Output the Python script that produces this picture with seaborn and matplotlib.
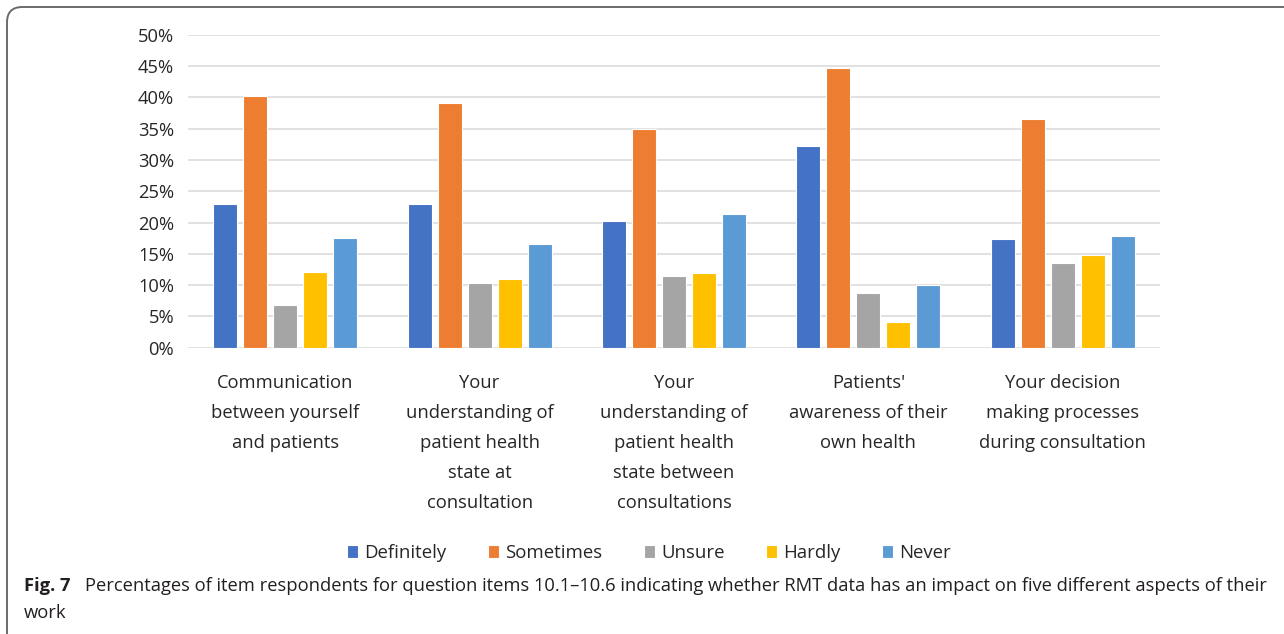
import matplotlib
matplotlib.use("Agg")
import matplotlib.pyplot as plt
from matplotlib.patches import FancyBboxPatch
from matplotlib.ticker import PercentFormatter
import numpy as np
import pandas as pd
import seaborn as sns

categories = [
    "Communication\nbetween yourself\nand patients",
    "Your\nunderstanding of\npatient health\nstate at\nconsultation",
    "Your\nunderstanding of\npatient health\nstate between\nconsultations",
    "Patients'\nawareness of their\nown health",
    "Your decision\nmaking processes\nduring consultation",
]
responses = ["Definitely", "Sometimes", "Unsure", "Hardly", "Never"]
definitely = [23.0, 22.9, 20.2, 32.3, 17.4]
sometimes = [40.2, 39.1, 35.0, 44.7, 36.6]
unsure = [6.8, 10.4, 11.5, 8.8, 13.5]
hardly = [12.1, 10.9, 11.9, 4.1, 14.8]
never = [17.5, 16.5, 21.3, 10.0, 17.8]
colors = ["#4472C4", "#ED7D31", "#A5A5A5", "#FFC000", "#5B9BD5"]

series = [definitely, sometimes, unsure, hardly, never]
rows = []
for resp, vals in zip(responses, series):
    for cat, v in zip(categories, vals):
        rows.append({"category": cat, "response": resp, "value": v / 100})
df = pd.DataFrame(rows)

sns.set_theme(style="white")
plt.rcParams["font.family"] = ["Open Sans", "DejaVu Sans"]

W, H = 1284, 634
fig = plt.figure(figsize=(W / 100, H / 100), dpi=100)

# rounded frame, open to the right and below
frame = FancyBboxPatch((7 / W, -0.05), 1.2, 1 - 7 / H + 0.05, transform=fig.transFigure,
                       boxstyle="round,pad=0,rounding_size=0.012",
                       facecolor="none", edgecolor="#6b6b6b", linewidth=1.4,
                       mutation_aspect=W / H)
fig.patches.append(frame)

ax = fig.add_axes([188 / W, (H - 347.7) / H, (1160 - 188) / W, 313 / H])
sns.barplot(data=df, x="category", y="value", hue="response", hue_order=responses,
            palette=colors, saturation=1, width=0.772, gap=0.2, edgecolor="white",
            linewidth=0.8, ax=ax, legend=True)

ax.set_ylim(0, 0.5)
ax.set_yticks(np.arange(0, 0.51, 0.05))
ax.yaxis.set_major_formatter(PercentFormatter(1.0, decimals=0))
ax.grid(axis="y", color="#D9D9D9", linewidth=1.1)
ax.set_axisbelow(True)
for s in ax.spines.values():
    s.set_visible(False)
ax.set_xlabel("")
ax.set_ylabel("")
ax.tick_params(axis="y", length=0, pad=10, labelsize=13.2, labelcolor="#262626")
ax.tick_params(axis="x", length=0, pad=19, labelsize=13.2, labelcolor="#262626")
for lab in ax.get_xticklabels():
    lab.set_linespacing(1.85)
    lab.set_verticalalignment("top")

handles, labels = ax.get_legend_handles_labels()
ax.legend_.remove()
fig.legend(handles, labels, loc="center", bbox_to_anchor=(649 / W, 1 - 553 / H),
           ncol=5, frameon=False, fontsize=13.4, handlelength=0.6, handleheight=0.75,
           handletextpad=0.35, columnspacing=2.2, labelcolor="#262626")

cap_size = 13.2
fig.text(24 / W, 1 - 586 / H, "Fig. 7", fontsize=cap_size, fontweight="bold",
         color="#231f20", va="center", ha="left")
fig.text(85 / W, 1 - 586 / H,
         "Percentages of item respondents for question items 10.1\u201310.6 indicating whether "
         "RMT data has an impact on five different aspects of their",
         fontsize=cap_size, color="#231f20", va="center", ha="left")
fig.text(24 / W, 1 - 613 / H, "work", fontsize=cap_size, color="#231f20", va="center", ha="left")

fig.savefig("out.png", dpi=100)
